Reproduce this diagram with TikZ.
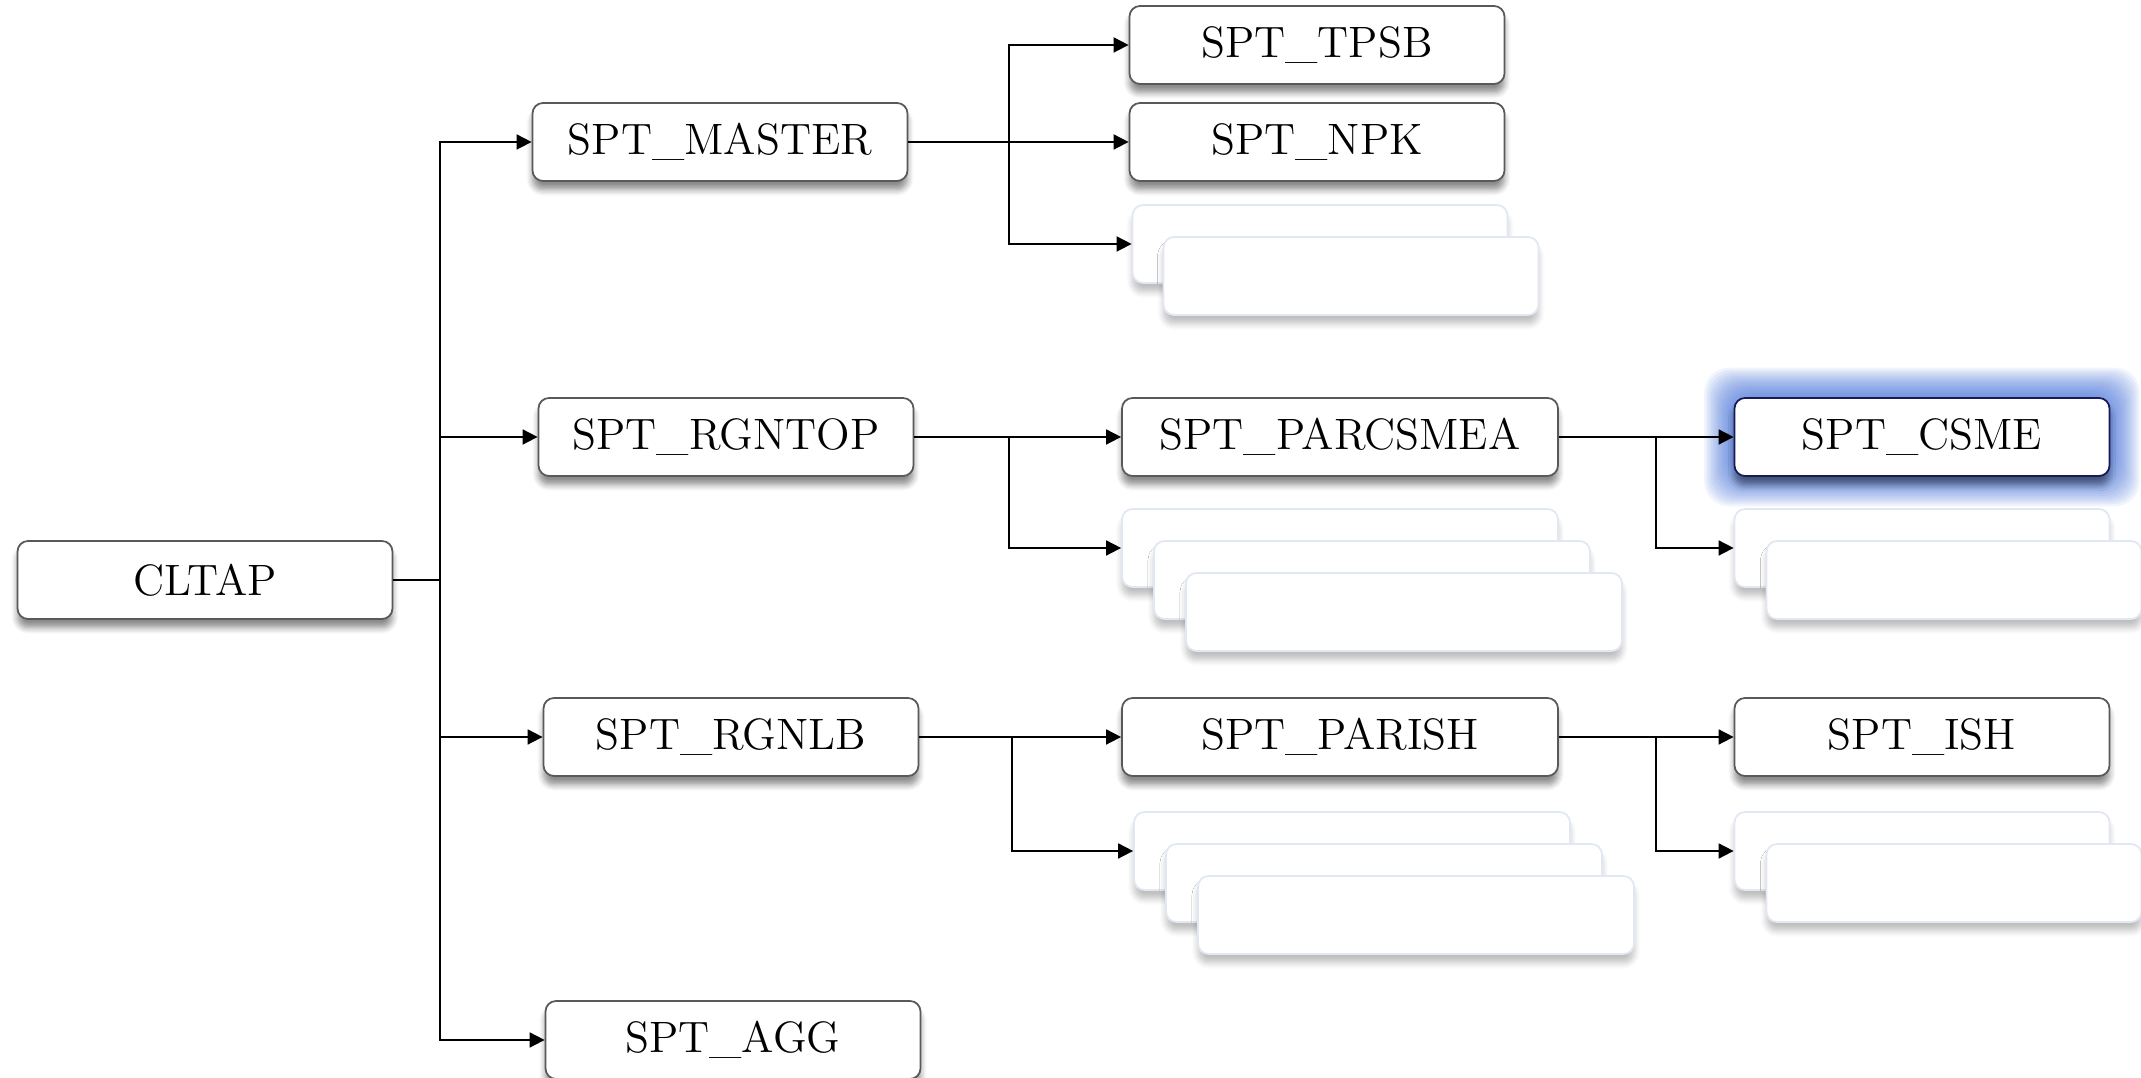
\documentclass[tikz,border=0pt]{standalone}
\usepackage{tikz}
\usetikzlibrary{arrows.meta, positioning, shadows.blur, backgrounds}

\definecolor{glowblue}{RGB}{45,95,210}
\definecolor{ghostline}{RGB}{226,231,244}

\begin{document}
\begin{tikzpicture}[
  font=\fontsize{12.5}{15}\selectfont,
  >={Triangle[length=1.5mm, width=1.5mm]},
  line width=0.5pt,
  tbl/.style={draw=black!65, rounded corners=3pt, fill=white, minimum width=3.75cm, minimum height=0.78cm, inner sep=2pt,
    blur shadow={shadow xshift=0pt, shadow yshift=-2.5pt, shadow opacity=45, shadow blur steps=6}},
  wide/.style={tbl, minimum width=4.36cm},
  ghost/.style={draw=ghostline, rounded corners=3pt, fill=white, minimum width=3.75cm, minimum height=0.78cm,
    blur shadow={shadow xshift=0pt, shadow yshift=-2.5pt, shadow opacity=25, shadow blur steps=6}},
  ghostwide/.style={ghost, minimum width=4.36cm},
]
  \useasboundingbox (0,0) rectangle (21.41,-10.78);

  % root and first level
  \node[tbl] (cltap) at (2.05,-5.80) {CLTAP};
  \node[tbl] (master) at (7.20,-1.42) {SPT\_MASTER};
  \node[tbl] (rgntop) at (7.26,-4.37) {SPT\_RGNTOP};
  \node[tbl] (rgnlb) at (7.31,-7.37) {SPT\_RGNLB};
  \node[tbl] (agg) at (7.33,-10.40) {SPT\_AGG};

  % SPT_MASTER children
  \node[tbl] (tpsb) at (13.17,-0.45) {SPT\_TPSB};
  \node[tbl] (npk) at (13.17,-1.42) {SPT\_NPK};
  \node[ghost] (mghostA) at (13.20,-2.44) {};
  \node[ghost] (mghostB) at ([shift={(0.31,-0.32)}]mghostA) {};

  % SPT_RGNTOP children
  \node[wide] (parcsmea) at (13.40,-4.37) {SPT\_PARCSMEA};
  \node[ghostwide] (tghostA) at (13.40,-5.48) {};
  \node[ghostwide] (tghostB) at ([shift={(0.32,-0.32)}]tghostA) {};
  \node[ghostwide] (tghostC) at ([shift={(0.32,-0.32)}]tghostB) {};

  \node[tbl, draw=black!70!blue!80!gray] (csme) at (19.22,-4.37) {SPT\_CSME};
  \node[ghost] (cghostA) at (19.22,-5.48) {};
  \node[ghost] (cghostB) at ([shift={(0.32,-0.32)}]cghostA) {};

  % SPT_RGNLB children
  \node[wide] (parish) at (13.40,-7.37) {SPT\_PARISH};
  \node[ghostwide] (lghostA) at (13.52,-8.51) {};
  \node[ghostwide] (lghostB) at ([shift={(0.32,-0.32)}]lghostA) {};
  \node[ghostwide] (lghostC) at ([shift={(0.32,-0.32)}]lghostB) {};

  \node[tbl] (ish) at (19.22,-7.37) {SPT\_ISH};
  \node[ghost] (ighostA) at (19.22,-8.51) {};
  \node[ghost] (ighostB) at ([shift={(0.32,-0.32)}]ighostA) {};

  % glow round the selected table
  \begin{scope}[on background layer]
    \foreach \g in {1,...,14}
      \fill[glowblue, opacity=0.07, rounded corners=7pt]
        ([shift={(-\g*0.021,-\g*0.021)}]csme.south west) rectangle ([shift={(\g*0.021,\g*0.021)}]csme.north east);
  \end{scope}

  % connectors
  \coordinate (trunk) at (4.40,-5.80);
  \draw (cltap.east) -- (trunk);
  \foreach \n in {master,rgntop,rgnlb,agg}
    \draw[->] (trunk) |- (\n.west);

  \coordinate (mfork) at (10.09,-1.42);
  \draw[->] (master.east) -- (npk.west);
  \draw[->] (mfork) |- (tpsb.west);
  \draw[->] (mfork) |- (mghostA.west);

  \coordinate (tfork) at (10.09,-4.37);
  \draw[->] (rgntop.east) -- (parcsmea.west);
  \draw[->] (tfork) |- (tghostA.west);

  \coordinate (cfork) at (16.56,-4.37);
  \draw[->] (parcsmea.east) -- (csme.west);
  \draw[->] (cfork) |- (cghostA.west);

  \coordinate (lfork) at (10.12,-7.37);
  \draw[->] (rgnlb.east) -- (parish.west);
  \draw[->] (lfork) |- (lghostA.west);

  \coordinate (ifork) at (16.56,-7.37);
  \draw[->] (parish.east) -- (ish.west);
  \draw[->] (ifork) |- (ighostA.west);
\end{tikzpicture}
\end{document}
